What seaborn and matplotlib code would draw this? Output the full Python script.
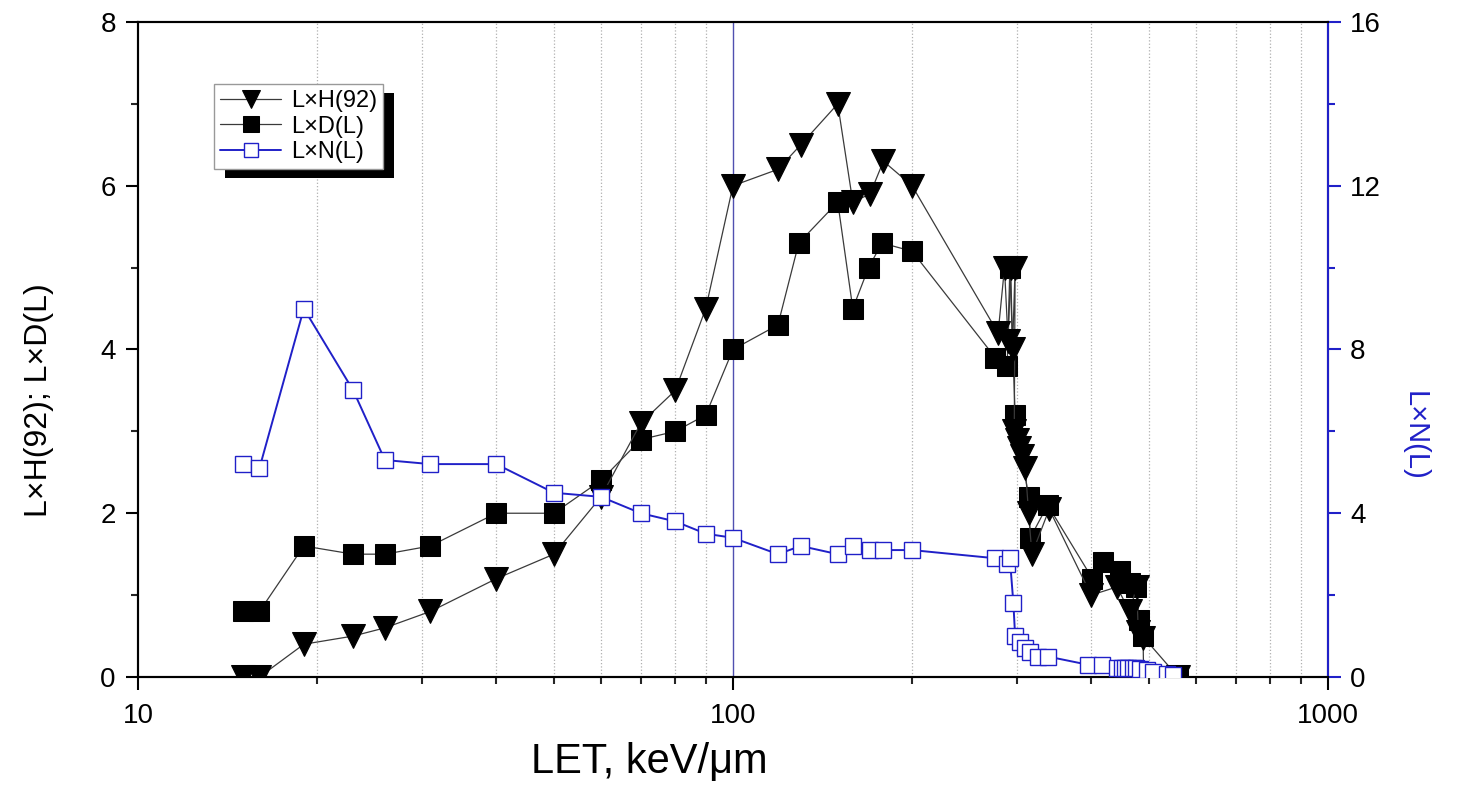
import matplotlib
matplotlib.use("Agg")
import matplotlib.pyplot as plt
import matplotlib.ticker as mticker
from matplotlib.patches import Rectangle
import seaborn as sns

# ------------------------------
# Data
# ------------------------------
let_h = [15, 16, 19, 23, 26, 31, 40, 50, 60, 70, 80, 90, 100, 119, 130, 150, 159, 170,
         179, 200, 279, 286, 290, 293, 295, 298, 297, 300, 303, 306, 310, 314, 318, 340,
         400, 442, 464, 477, 480, 489, 490, 560]
lxh = [0.0, 0.0, 0.4, 0.5, 0.6, 0.8, 1.2, 1.5, 2.2, 3.1, 3.5, 4.5, 6.0, 6.2, 6.5, 7.0, 5.8, 5.9,
       6.3, 6.0, 4.2, 5.0, 4.1, 5.0, 4.0, 5.0, 3.0, 2.9, 2.8, 2.7, 2.55, 2.0, 1.5, 2.05,
       1.0, 1.1, 0.8, 1.1, 0.55, 0.48, 0.0, 0.0]

let_d = [15, 16, 19, 23, 26, 31, 40, 50, 60, 70, 80, 90, 100, 119, 129, 150, 159, 169, 178,
         200, 276, 289, 292, 298, 314, 316, 338, 402, 419, 447, 465, 475, 482, 488, 560]
lxd = [0.8, 0.8, 1.6, 1.5, 1.5, 1.6, 2.0, 2.0, 2.4, 2.9, 3.0, 3.2, 4.0, 4.3, 5.3, 5.8, 4.5, 5.0, 5.3,
       5.2, 3.9, 3.8, 5.0, 3.2, 2.2, 1.7, 2.1, 1.2, 1.4, 1.3, 1.15, 1.1, 0.7, 0.5, 0.0]

let_n = [15, 16, 19, 23, 26, 31, 40, 50, 60, 70, 80, 90, 100, 119, 130, 150, 159, 170, 179, 200,
         276, 289, 292, 296, 298, 304, 310, 316, 326, 338, 395, 417, 442, 450, 456, 462, 470,
         476, 483, 496, 508, 536, 549]
lxn = [5.2, 5.1, 9.0, 7.0, 5.3, 5.2, 5.2, 4.5, 4.4, 4.0, 3.8, 3.5, 3.4, 3.0, 3.2, 3.0, 3.2, 3.1, 3.1, 3.1,
       2.9, 2.75, 2.9, 1.8, 1.0, 0.85, 0.72, 0.6, 0.5, 0.5, 0.3, 0.3, 0.22, 0.22, 0.22, 0.22, 0.22,
       0.22, 0.2, 0.17, 0.12, 0.08, 0.05]

blue = "#2020c8"

# ------------------------------
# Style
# ------------------------------
sns.set_style("white")
plt.rcParams["font.family"] = ["Liberation Sans", "DejaVu Sans"]
plt.rcParams["text.color"] = "black"
plt.rcParams["axes.labelcolor"] = "black"

fig = plt.figure(figsize=(14.68, 7.85), dpi=100)
ax = fig.add_axes([0.094, 0.1376, 0.8106, 0.8344])
ax.set_xscale("log")
ax2 = ax.twinx()

# ------------------------------
# Plot
# ------------------------------
sns.lineplot(x=let_h, y=lxh, ax=ax, sort=False, estimator=None, color="#3a3a3a", lw=0.9,
             marker="v", markersize=17, markerfacecolor="black", markeredgecolor="black",
             label="L\u00d7H(92)", legend=False, zorder=4)
sns.lineplot(x=let_d, y=lxd, ax=ax, sort=False, estimator=None, color="#3a3a3a", lw=0.9,
             marker="s", markersize=14, markerfacecolor="black", markeredgecolor="black",
             label="L\u00d7D(L)", legend=False, zorder=3)
sns.lineplot(x=let_n, y=lxn, ax=ax2, sort=False, estimator=None, color=blue, lw=1.4,
             marker="s", markersize=12, markerfacecolor="white", markeredgecolor=blue,
             markeredgewidth=1.0, label="L\u00d7N(L)", legend=False, zorder=3)

ax.axvline(100, color="#5050b0", lw=1.0, zorder=1)

# ------------------------------
# Axes
# ------------------------------
ax.set_xlim(10, 1000)
ax.set_ylim(0, 8)
ax2.set_ylim(0, 16)
ax.xaxis.set_major_locator(mticker.FixedLocator([10, 100, 1000]))
ax.xaxis.set_major_formatter(mticker.FixedFormatter(["10", "100", "1000"]))
minors = [20, 30, 40, 50, 60, 70, 80, 90, 200, 300, 400, 500, 600, 700, 800, 900]
ax.xaxis.set_minor_locator(mticker.FixedLocator(minors))
ax.xaxis.set_minor_formatter(mticker.NullFormatter())
for m in minors:
    ax.axvline(m, color="#b0b0b0", lw=0.9, ls=":", zorder=0)

ax.yaxis.set_major_locator(mticker.MultipleLocator(2))
ax.yaxis.set_minor_locator(mticker.MultipleLocator(1))
ax2.yaxis.set_major_locator(mticker.MultipleLocator(4))
ax2.yaxis.set_minor_locator(mticker.MultipleLocator(2))

ax.tick_params(axis="both", which="major", direction="out", length=9, width=1.5,
               labelsize=20, colors="black", bottom=True, left=True, pad=7)
ax.tick_params(axis="x", which="major", pad=10)
ax.tick_params(axis="both", which="minor", direction="out", length=5, width=1.5,
               bottom=True, left=True)
ax2.tick_params(axis="y", which="major", direction="out", length=9, width=1.5,
                labelsize=20, color=blue, labelcolor="black", right=True, pad=7)
ax2.tick_params(axis="y", which="minor", direction="out", length=5, width=1.5,
                color=blue, right=True)

for a in (ax, ax2):
    for s in a.spines.values():
        s.set_linewidth(1.5)
        s.set_color("black")
ax2.spines["right"].set_color(blue)

ax.set_xlabel("LET, keV/\u03bcm", fontsize=30, color="black")
ax.xaxis.set_label_coords(0.43, -0.1)
ax.set_ylabel("L\u00d7H(92); L\u00d7D(L)", fontsize=23, color="black")
ax.yaxis.set_label_coords(-0.071, 0.423)
ax2.set_ylabel("L\u00d7N(L)", fontsize=21, color=blue, rotation=270, va="center")
ax2.yaxis.set_label_coords(1.073, 0.368)

# ------------------------------
# Legend with a black drop shadow
# ------------------------------
handles = ax.get_lines()[:2] + ax2.get_lines()[:1]
leg = ax2.legend(handles=handles, labels=[h.get_label() for h in handles],
                 loc="upper left", bbox_to_anchor=(0.064, 0.905), borderaxespad=0,
                 fontsize=17, frameon=True, fancybox=False, edgecolor="#999999",
                 framealpha=1, handlelength=2.6, handletextpad=0.4, borderpad=0.25,
                 labelspacing=0.15, markerscale=0.8)
leg.get_frame().set_linewidth(1.0)
leg.set_zorder(6)

fig.canvas.draw()
bb = leg.get_window_extent().transformed(ax2.transAxes.inverted())
axbb = ax2.get_window_extent()
dx, dy = 11 / axbb.width, 9 / axbb.height
ax2.add_patch(Rectangle((bb.x0 + dx, bb.y0 - dy), bb.width, bb.height,
                        transform=ax2.transAxes, facecolor="black", edgecolor="none",
                        zorder=5, clip_on=False))

fig.savefig("out.png", dpi=100)
